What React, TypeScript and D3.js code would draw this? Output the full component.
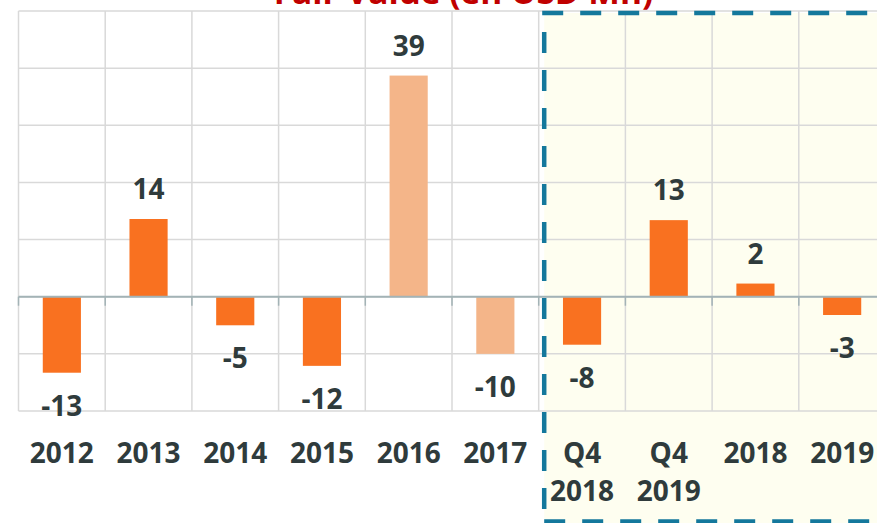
import React from "react";
import * as d3 from "d3";

const title = "Fair Value (en USD Mn)";
const categories = ["2012", "2013", "2014", "2015", "2016", "2017", "Q4 2018", "Q4 2019", "2018", "2019"];
const values = [-13.3, 13.6, -5, -12.1, 38.7, -10, -8.4, 13.4, 2.3, -3.2];
const lightCategories = ["2016", "2017"];
const yTicks = [-20, -10, 0, 10, 20, 30, 40, 50];
// la zone encadrée commence à cette catégorie
const boxStart = "Q4 2018";

const W = 877;
const H = 523;
const margin = { top: 11, left: 18.5, bottom: 112 };
const step = 86.7;

const font = "'Open Sans', 'Liberation Sans', sans-serif";
const textColor = "#2f3b3c";

const App = () => {
  const x = d3
    .scaleBand()
    .domain(categories)
    .range([margin.left, margin.left + step * categories.length])
    .paddingInner(0.56)
    .paddingOuter(0.28);

  const y = d3
    .scaleLinear()
    .domain([d3.min(yTicks), d3.max(yTicks)])
    .range([H - margin.bottom, margin.top]);

  const bw = x.bandwidth();
  const st = x.step();
  const edge = (c) => x(c) - (st - bw) / 2; // bord gauche de la catégorie
  const right = margin.left + st * categories.length;

  const boxX = edge(boxStart) + 5.5;

  return (
    <div style={{ position: "absolute", left: 0, top: 0 }}>
      <svg width={W} height={H} style={{ display: "block" }}>
        <rect x={0} y={0} width={W} height={H} fill="#ffffff" />
        {/* fond jaune de la zone encadrée */}
        <rect x={boxX} y={13} width={W - boxX} height={H - 13} fill="#fefef0" />

        {/* grille */}
        {yTicks.map((t) => (
          <line key={"h" + t} x1={margin.left} x2={right} y1={y(t)} y2={y(t)} stroke="#d9d9d9" strokeWidth={1.5} />
        ))}
        {categories.map((c) => (
          <line key={"v" + c} x1={edge(c)} x2={edge(c)} y1={y(d3.max(yTicks))} y2={y(d3.min(yTicks))} stroke="#d9d9d9" strokeWidth={1.5} />
        ))}

        {/* barres */}
        {categories.map((c, i) => (
          <rect
            key={"b" + c}
            x={x(c)}
            y={y(Math.max(0, values[i]))}
            width={bw}
            height={Math.abs(y(values[i]) - y(0))}
            fill={lightCategories.includes(c) ? "#f4b589" : "#f97120"}
          />
        ))}

        {/* axe zéro */}
        <line x1={margin.left} x2={right} y1={y(0)} y2={y(0)} stroke="#a3b3b6" strokeWidth={2} />
        {categories.map((c) => (
          <line key={"t" + c} x1={edge(c)} x2={edge(c)} y1={y(0)} y2={y(0) + 9} stroke="#a3b3b6" strokeWidth={1.5} />
        ))}

        {/* étiquettes de valeurs */}
        {categories.map((c, i) => (
          <text
            key={"l" + c}
            x={x(c) + bw / 2}
            y={values[i] >= 0 ? y(values[i]) - 20 : y(values[i]) + 43}
            textAnchor="middle"
            fontFamily={font}
            fontWeight="bold"
            fontSize={28}
            fill={textColor}
          >
            {Math.round(values[i])}
          </text>
        ))}

        {/* catégories */}
        {categories.map((c) => (
          <text key={"c" + c} textAnchor="middle" fontFamily={font} fontWeight="bold" fontSize={28} fill={textColor}>
            {c.split(" ").map((part, j) => (
              <tspan key={j} x={x(c) + bw / 2} y={463 + j * 38}>
                {part}
              </tspan>
            ))}
          </text>
        ))}

        {/* cadre pointillé */}
        <line x1={boxX - 2} x2={W} y1={13} y2={13} stroke="#14789c" strokeWidth={4.5} strokeDasharray="21 17" />
        <line x1={boxX} x2={boxX} y1={32} y2={H} stroke="#14789c" strokeWidth={4.5} strokeDasharray="21 17" />
        <line x1={boxX} x2={W} y1={521.5} y2={521.5} stroke="#14789c" strokeWidth={4.5} strokeDasharray="21 17" />

        {/* titre (coupé en haut) */}
        <text x={463.5} y={4} textAnchor="middle" fontFamily={font} fontWeight="bold" fontSize={33.5} fill="#c00000">
          {title}
        </text>
      </svg>
    </div>
  );
};

export default App;
